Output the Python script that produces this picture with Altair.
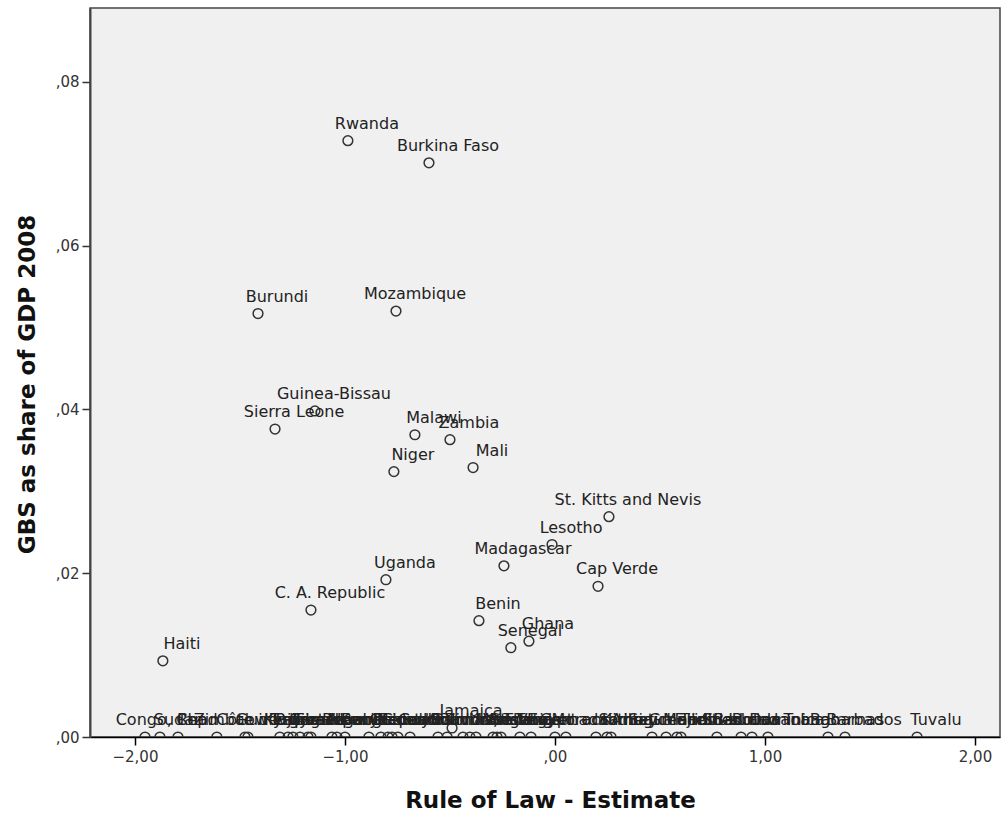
import altair as alt
import pandas as pd

# Countries, Rule of Law estimate (x) and GBS as share of GDP 2008 (y)
countries = [
    "Rwanda", "Burkina Faso", "Burundi", "Mozambique", "Guinea-Bissau",
    "Sierra Leone", "Malawi", "Zambia", "Mali", "Niger",
    "St. Kitts and Nevis", "Lesotho", "Madagascar", "Cap Verde", "Uganda",
    "C. A. Republic", "Benin", "Ghana", "Senegal", "Haiti", "Jamaica",
    "Congo, Rep.", "Sudan", "Chad", "Zimbabwe", "Guinea", "Côte d'Ivoire",
    "Eritrea", "Tajikistan", "Togo", "Liberia", "Kyrgyz Republic",
    "Cameroon", "Papua New Guinea", "Nigeria", "Kenya", "Bangladesh", "Nepal",
    "Pakistan", "Ecuador", "Comoros", "Guyana", "Bolivia", "Honduras",
    "Gambia, The", "Timor-Leste", "Solomon Islands", "Mongolia", "Vanuatu",
    "Armenia", "Tonga", "Egypt", "Grenada", "Morocco",
    "St. Vincent and the Grenadines", "Samoa", "Kiribati", "Seychelles",
    "Fiji", "Antigua and Barbuda", "Mauritius", "St. Lucia",
    "Trinidad and Tobago", "Botswana", "Dominica", "Bahamas", "Barbados",
    "Tuvalu",
]
rule_of_law = [
    -0.986, -0.600, -1.414, -0.757, -1.143,
    -1.333, -0.667, -0.500, -0.390, -0.767,
    0.257, -0.014, -0.243, 0.205, -0.805,
    -1.162, -0.362, -0.124, -0.210, -1.867, -0.490,
    -1.952, -1.881, -1.795, -1.610, -1.476, -1.462,
    -1.310, -1.271, -1.248, -1.214, -1.176,
    -1.162, -1.062, -1.038, -1.000, -0.886, -0.829,
    -0.795, -0.776, -0.748, -0.690, -0.557, -0.514,
    -0.438, -0.405, -0.376, -0.295, -0.276,
    -0.257, -0.167, -0.114, 0.000, 0.052,
    0.195, 0.248, 0.267, 0.462,
    0.529, 0.581, 0.600, 0.771,
    0.886, 0.938, 1.014, 1.300, 1.381,
    1.724,
]
gbs_share = [
    0.0728, 0.0701, 0.0517, 0.0520, 0.0398,
    0.0376, 0.0369, 0.0363, 0.0329, 0.0324,
    0.0269, 0.0235, 0.0209, 0.0184, 0.0192,
    0.0155, 0.0142, 0.0117, 0.0109, 0.0093, 0.0011,
] + [0.0] * 47

x_ticks = [-2, -1, 0, 1, 2]
y_ticks = [0, 0.02, 0.04, 0.06, 0.08]

df = pd.DataFrame({"country": countries, "rol": rule_of_law, "gbs": gbs_share})

FONT = "DejaVu Sans"

x_enc = alt.X(
    "rol:Q",
    title="Rule of Law - Estimate",
    scale=alt.Scale(domain=[-2.214, 2.119], nice=False, zero=False),
    axis=alt.Axis(
        values=x_ticks,
        labelExpr="datum.value == 0 ? ',00' : replace(format(datum.value, '.2f'), '.', ',')",
        grid=False,
        domainColor="#000000",
        domainWidth=1.5,
        tickColor="#000000",
        tickSize=8,
        tickWidth=1.5,
        labelFont=FONT,
        labelFontSize=15,
        labelColor="#333333",
        labelPadding=4,
        titleFont=FONT,
        titleFontSize=23,
        titleFontWeight="bold",
        titleColor="#111111",
        titleX=460,
        titleY=63,
        titleBaseline="middle",
        titleAlign="center",
    ),
)
y_enc = alt.Y(
    "gbs:Q",
    title="GBS as share of GDP 2008",
    scale=alt.Scale(domain=[0, 0.089], nice=False, zero=False),
    axis=alt.Axis(
        values=y_ticks,
        labelExpr="',' + substring(format(datum.value, '.2f'), 2)",
        grid=False,
        domainColor="#444444",
        domainWidth=2,
        tickColor="#333333",
        tickSize=8,
        tickWidth=1.5,
        labelFont=FONT,
        labelFontSize=15,
        labelColor="#333333",
        labelPadding=3,
        titleFont=FONT,
        titleFontSize=23,
        titleFontWeight="bold",
        titleColor="#111111",
        titleAngle=-90,
        titleX=-63,
        titleY=376,
        titleAlign="center",
        titleBaseline="middle",
    ),
)

base = alt.Chart(df)

points = base.mark_point(
    shape="circle", filled=False, size=95, stroke="#333333", strokeWidth=1.5,
    clip=True, opacity=1,
).encode(x=x_enc, y=y_enc)

labels = base.mark_text(
    font=FONT, fontSize=16, color="#222222", align="center",
    baseline="alphabetic", dx=19, dy=-12,
).encode(x="rol:Q", y="gbs:Q", text="country:N")

chart = (
    alt.layer(points, labels)
    .properties(
        width=910,
        height=729,
        autosize=alt.AutoSizeParams(type="none"),
        padding={"left": 90, "top": 8, "right": 5, "bottom": 77},
        background="#ffffff",
    )
    .configure_view(fill="#f0f0f0", stroke="#444444", strokeWidth=1.5)
)

chart.save("out.html", embed_options={"renderer": "svg", "actions": False})
